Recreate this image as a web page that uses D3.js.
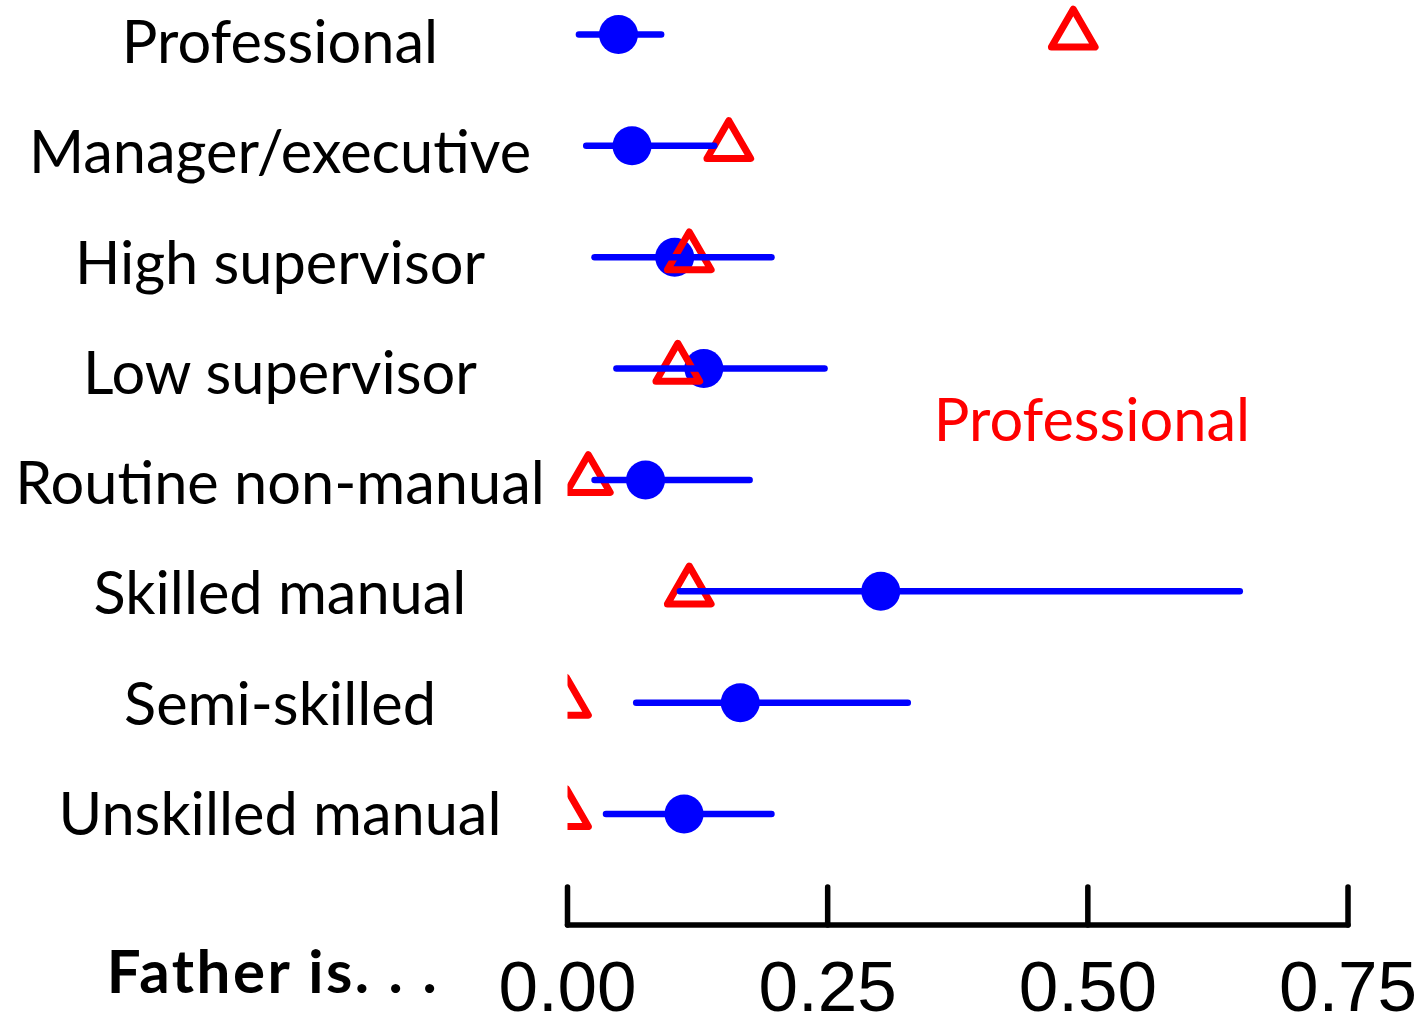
<!DOCTYPE html>
<html>
<head>
<meta charset="utf-8">
<script src="https://cdn.jsdelivr.net/npm/d3@7"></script>
<style>
  html, body { margin: 0; padding: 0; background: #fff; }
  svg { display: block; }
</style>
</head>
<body>
<script>
// Father's occupation categories (top to bottom)
const categories = [
  "Professional",
  "Manager/executive",
  "High supervisor",
  "Low supervisor",
  "Routine non-manual",
  "Skilled manual",
  "Semi-skilled",
  "Unskilled manual"
];
// Estimated proportion (blue dot) with interval bounds
const estimate = [0.049, 0.062, 0.103, 0.131, 0.075, 0.301, 0.166, 0.112];
const lower    = [0.011, 0.018, 0.026, 0.047, 0.026, 0.108, 0.066, 0.037];
const upper    = [0.090, 0.141, 0.196, 0.247, 0.175, 0.646, 0.327, 0.196];
// Comparison value for the "Professional" group (red triangles)
const comparison = [0.486, 0.155, 0.117, 0.106, 0.020, 0.117, -0.001, -0.001];
const xTicks = [0, 0.25, 0.5, 0.75];
const tickLabels = ["0.00", "0.25", "0.50", "0.75"];

const W = 1423, H = 1018;
const svg = d3.select("body").append("svg").attr("width", W).attr("height", H);

const x = d3.scaleLinear().domain([0, 0.75]).range([567.5, 1348]);
const y = d3.scalePoint().domain(categories).range([34.5, 814]);
// Baselines of the category labels in the left margin
const yLabel = d3.scalePoint().domain(categories).range([63, 835]);

const rows = categories.map((c, i) => ({
  cat: c, est: estimate[i], lo: lower[i], hi: upper[i], cmp: comparison[i]
}));

svg.append("defs").append("clipPath").attr("id", "plotclip")
  .append("rect").attr("x", x(0)).attr("y", 0).attr("width", W - x(0)).attr("height", 880);

const plot = svg.append("g").attr("clip-path", "url(#plotclip)");

// Point estimates
plot.selectAll("circle.est").data(rows).join("circle")
  .attr("class", "est")
  .attr("cx", d => x(d.est)).attr("cy", d => y(d.cat)).attr("r", 19.5)
  .attr("fill", "#0000ff");

// Comparison markers
const tri = d3.symbol().type(d3.symbolTriangle).size(827);
plot.selectAll("path.cmp").data(rows).join("path")
  .attr("class", "cmp")
  .attr("d", tri)
  .attr("transform", d => `translate(${x(d.cmp)},${y(d.cat)})`)
  .attr("fill", "none").attr("stroke", "#ff0000")
  .attr("stroke-width", 7).attr("stroke-linejoin", "round");

// Interval lines
plot.selectAll("line.ci").data(rows).join("line")
  .attr("class", "ci")
  .attr("x1", d => x(d.lo)).attr("x2", d => x(d.hi))
  .attr("y1", d => y(d.cat)).attr("y2", d => y(d.cat))
  .attr("stroke", "#0000ff").attr("stroke-width", 6.5).attr("stroke-linecap", "round");

// Category labels
const labelFont = "Lato, 'Open Sans', sans-serif";
svg.selectAll("text.cat").data(rows).join("text")
  .attr("class", "cat")
  .attr("x", 280).attr("y", d => yLabel(d.cat))
  .attr("text-anchor", "middle")
  .attr("font-family", labelFont).attr("font-size", 59.5)
  .attr("fill", "#000")
  .text(d => d.cat);

// Legend annotation
svg.append("text")
  .attr("x", 1092).attr("y", 441)
  .attr("text-anchor", "middle")
  .attr("font-family", labelFont).attr("font-size", 59.5)
  .attr("fill", "#ff0000")
  .text("Professional");

// Axis
const axisY = 925;
const axis = svg.append("g").attr("stroke", "#000").attr("stroke-width", 5.5).attr("stroke-linecap", "round");
axis.append("line").attr("x1", x(0)).attr("x2", x(0.75)).attr("y1", axisY).attr("y2", axisY);
axis.selectAll("line.tick").data(xTicks).join("line")
  .attr("class", "tick")
  .attr("x1", d => x(d)).attr("x2", d => x(d))
  .attr("y1", axisY).attr("y2", 887);

svg.selectAll("text.tl").data(xTicks).join("text")
  .attr("class", "tl")
  .attr("x", d => x(d)).attr("y", 1011)
  .attr("text-anchor", "middle")
  .attr("font-family", "'Liberation Sans', Arial, sans-serif").attr("font-size", 71)
  .attr("fill", "#000")
  .text((d, i) => tickLabels[i]);

svg.append("text")
  .attr("x", 273).attr("y", 993)
  .attr("text-anchor", "middle")
  .attr("font-family", labelFont).attr("font-size", 60).attr("font-weight", "bold")
  .attr("letter-spacing", 2.5)
  .attr("fill", "#000")
  .text("Father is. . .");
</script>
</body>
</html>
